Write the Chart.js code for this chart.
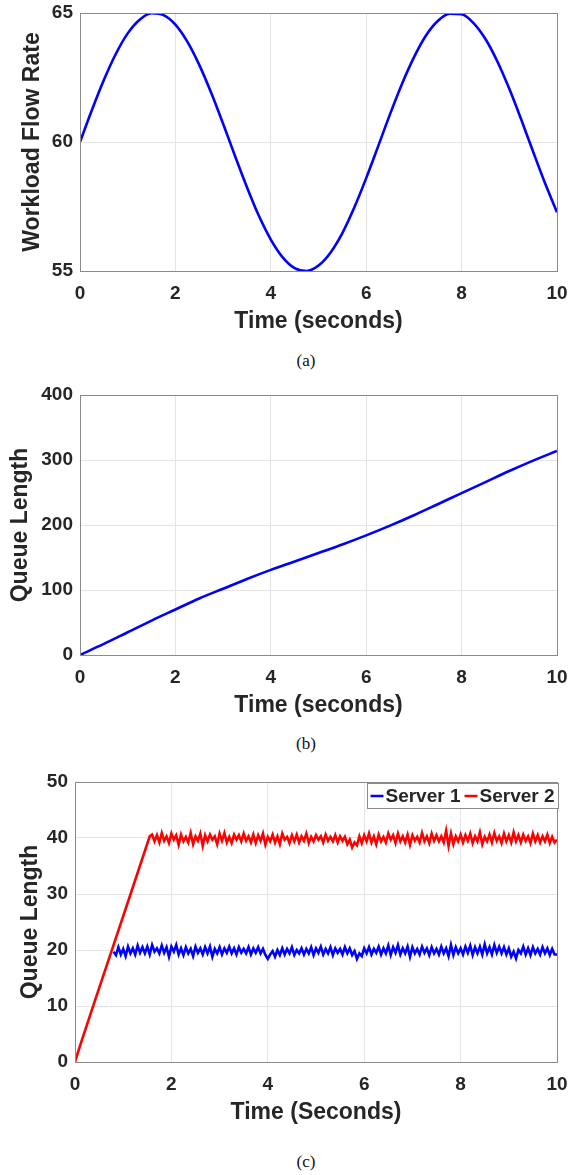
<!DOCTYPE html>
<html>
<head>
<meta charset="utf-8">
<title>Workload and queue length</title>
<script src="https://cdn.jsdelivr.net/npm/chart.js@4.4.1/dist/chart.umd.min.js"></script>
<style>
  html, body { margin: 0; padding: 0; background: #fff; }
  body { position: relative; width: 578px; height: 1175px; overflow: hidden; }
  canvas { position: absolute; left: 0; }
  .cap { position: absolute; left: 256px; width: 100px; text-align: center;
         font: 17px "Liberation Serif", serif; line-height: 20px; color: #111; }
</style>
</head>
<body>
<canvas id="chartA" width="578" height="341" style="top:0px"></canvas>
<div class="cap" style="top:351px">(a)</div>
<canvas id="chartB" width="578" height="343" style="top:382px"></canvas>
<div class="cap" style="top:734px">(b)</div>
<canvas id="chartC" width="578" height="363" style="top:769px"></canvas>
<div class="cap" style="top:1152px">(c)</div>

<script>
// (a) workload flow rate, read every 0.25 s
const timeA = [0, 0.25, 0.5, 0.75, 1, 1.25, 1.5, 1.75, 2, 2.25, 2.5, 2.75, 3, 3.25, 3.5, 3.75,
    4, 4.25, 4.5, 4.75, 5, 5.25, 5.5, 5.75, 6, 6.25, 6.5, 6.75, 7, 7.25, 7.5, 7.75,
    8, 8.25, 8.5, 8.75, 9, 9.25, 9.5, 9.75, 10];
const flowRate = [60, 61.24, 62.40, 63.41, 64.21, 64.74, 64.99, 64.92, 64.55, 63.89, 62.99, 61.91,
    60.71, 59.46, 58.25, 57.14, 56.22, 55.53, 55.11, 55.00, 55.21, 55.71, 56.47, 57.46,
    58.60, 59.83, 61.08, 62.25, 63.28, 64.12, 64.69, 64.97, 64.95, 64.61, 63.99, 63.12,
    62.06, 60.87, 59.62, 58.40, 57.28];

// (b) queue length, read every 0.5 s
const timeB = [0, 0.5, 1, 1.5, 2, 2.5, 3, 3.5, 4, 4.5, 5, 5.5, 6, 6.5, 7, 7.5, 8, 8.5, 9, 9.5, 10];
const queueB = [0, 17, 35, 53, 70, 87, 102, 117, 131, 144, 157, 170, 184, 199, 215, 232, 249, 266, 283, 299, 314];

// (c) two servers: server 2 ramps up first, then both hover around their level
const rampTime2 = [0, 0.1, 0.4, 0.77, 1.2, 1.55];
const rampQueue2 = [0, 2.8, 10.6, 20.1, 31.2, 40.3];
const sampleStep = 0.05;
const server2Start = 1.6;
const server2Queue = [
    40.6, 39.4, 40.5, 39.2, 40.9, 39.5, 40.3, 39.1, 40.8, 39.7, 40.5, 38.8, 40.6, 39.4, 40.2, 39.2, 40.9, 38.9, 40.3, 39.5,
    40.8, 38.6, 40.5, 39.4, 40.6, 39.7, 40.3, 38.9, 40.8, 39.5, 40.9, 39.2, 40.2, 39.1, 40.6, 39.7, 40.5, 39.4, 40.8, 39.5,
    40.3, 39.2, 40.6, 39.1, 40.5, 39.5, 40.8, 38.8, 40.2, 39.4, 40.6, 39.2, 40.3, 38.9, 40.8, 39.7, 40.2, 39.1, 40.5, 39.4,
    40.6, 39.2, 40.3, 39.5, 40.8, 39.1, 40.2, 39.4, 40.5, 39.7, 40.3, 39.2, 40.6, 39.5, 40.2, 39.4, 40.5, 39.2, 40.3, 39.5,
    40.2, 38.9, 39.7, 38.3, 39.2, 38.7, 40.3, 39.1, 40.5, 39.4, 40.8, 39.2, 40.3, 38.9, 40.6, 39.4, 40.2, 39.2, 40.8, 39.7,
    40.5, 39.1, 40.8, 39.4, 40.3, 39.2, 40.6, 38.8, 40.5, 39.5, 40.2, 39.2, 40.9, 39.4, 40.3, 39.1, 40.8, 39.5, 40.5, 39.4,
    40.3, 39.2, 41.3, 38.6, 40.8, 38.9, 40.3, 39.4, 40.6, 39.2, 40.5, 39.5, 40.8, 39.1, 40.3, 39.4, 41.0, 38.9, 40.2, 39.4,
    40.6, 39.2, 40.9, 39.5, 40.3, 39.1, 40.8, 39.4, 40.5, 39.2, 41.0, 39.4, 40.5, 39.2, 40.6, 39.5, 40.3, 39.1, 40.8, 39.4,
    40.5, 39.2, 40.3, 39.4, 40.6, 39.1, 40.2, 39.2, 39.7];
const server1Start = 0.8;
const server1Queue = [
    19.7, 19.1, 20.5, 19.2, 20.2, 18.9, 20.6, 19.4, 20.3, 19.2, 20.8, 19.5, 20.5, 19.4, 20.6, 19.2, 20.9, 19.7, 20.3, 19.4,
    20.8, 19.5, 20.5, 18.8, 20.6, 19.7, 20.9, 19.2, 20.3, 19.1, 20.5, 19.4, 20.2, 18.9, 20.6, 19.5, 20.3, 19.2, 20.5, 19.4,
    20.6, 18.8, 20.2, 19.4, 20.5, 19.2, 20.3, 19.5, 20.6, 19.4, 20.3, 19.2, 20.5, 19.5, 20.2, 19.4, 20.5, 19.2, 20.3, 19.5,
    20.5, 19.4, 20.2, 19.1, 18.4, 19.2, 19.8, 18.8, 20.0, 19.1, 20.3, 19.2, 20.2, 19.4, 20.5, 19.1, 20.0, 19.4, 20.3, 19.2,
    20.2, 19.4, 20.5, 19.1, 20.3, 19.5, 20.6, 19.2, 20.2, 19.4, 20.5, 19.1, 20.3, 19.5, 20.2, 19.2, 20.5, 19.4, 20.3, 19.1,
    19.8, 18.4, 19.4, 18.9, 20.3, 19.4, 20.5, 19.2, 20.2, 19.5, 20.6, 19.2, 20.3, 19.4, 20.8, 19.1, 20.5, 19.5, 20.9, 19.2,
    20.3, 19.4, 20.6, 18.8, 20.5, 19.4, 20.2, 19.2, 20.6, 19.5, 20.3, 19.1, 20.5, 19.4, 20.2, 19.2, 20.6, 19.4, 20.3, 18.9,
    20.9, 19.1, 20.5, 19.4, 20.3, 19.2, 20.6, 19.5, 20.8, 19.1, 20.5, 19.4, 20.6, 19.2, 21.0, 19.4, 20.5, 19.2, 20.9, 19.5,
    20.6, 19.4, 20.5, 19.2, 20.3, 18.8, 19.7, 18.5, 20.0, 19.4, 20.6, 19.2, 20.3, 19.1, 20.5, 19.4, 20.2, 19.2, 20.5, 19.4,
    20.3, 19.1, 20.2, 19.2, 19.2];

const seriesLabels = ['Server 1', 'Server 2'];
const xTicksEvery = 2;

const textColor = '#262626';
const gridColor = '#e4e4e4';
const boxColor = '#8a8a8a';
const tickFont = { family: '"Liberation Sans", Arial, sans-serif', size: 19, weight: 'bold' };
const titleFont = { family: '"Liberation Sans", Arial, sans-serif', size: 23, weight: 'bold' };

function toPoints(xs, ys) {
    return ys.map((y, i) => ({ x: xs[i], y: y }));
}
function sampled(start, ys) {
    return ys.map((y, i) => ({ x: +(start + i * sampleStep).toFixed(2), y: y }));
}

// full box round the plot + optional legend in the top-right corner (MATLAB look)
const framePlugin = {
    id: 'frame',
    afterDraw(chart, args, opts) {
        const ctx = chart.ctx;
        const a = chart.chartArea;
        ctx.save();
        ctx.strokeStyle = boxColor;
        ctx.lineWidth = 1;
        ctx.strokeRect(Math.round(a.left) + 0.5, Math.round(a.top) + 0.5,
            Math.round(a.right - a.left), Math.round(a.bottom - a.top));

        if (opts.legend) {
            ctx.font = 'bold 19px "Liberation Sans", Arial, sans-serif';
            ctx.textBaseline = 'middle';
            const lineLen = 13, gap = 2, pad = 3;
            const items = chart.data.datasets.map(d => ({
                text: d.label, color: d.borderColor, w: ctx.measureText(d.label).width
            }));
            let total = pad;
            items.forEach(it => { total += lineLen + gap + it.w + pad + 1; });
            const right = Math.round(a.right) + 1.5;
            const top = Math.round(a.top) + 1.5;
            const h = 25;
            const left = right - total;
            ctx.fillStyle = '#fff';
            ctx.fillRect(left, top, total, h);
            ctx.strokeStyle = boxColor;
            ctx.strokeRect(left, top, total, h);
            let x = left + pad;
            const cy = top + h / 2;
            items.forEach(it => {
                ctx.strokeStyle = it.color;
                ctx.lineWidth = 2.5;
                ctx.beginPath();
                ctx.moveTo(x, cy);
                ctx.lineTo(x + lineLen, cy);
                ctx.stroke();
                x += lineLen + gap;
                ctx.fillStyle = textColor;
                ctx.fillText(it.text, x, cy + 1);
                x += it.w + pad + 1;
            });
        }
        ctx.restore();
    }
};

function makeOptions(cfg) {
    return {
        responsive: false,
        animation: false,
        layout: { padding: { top: 13, right: 21, left: 0, bottom: 0 } },
        plugins: {
            legend: { display: false },
            tooltip: { enabled: false },
            frame: { legend: !!cfg.legend }
        },
        scales: {
            x: {
                type: 'linear', min: 0, max: 10,
                ticks: { stepSize: xTicksEvery, padding: 11, font: tickFont, color: textColor, maxRotation: 0 },
                grid: { color: gridColor, drawTicks: false },
                border: { color: boxColor },
                title: { display: true, text: cfg.xTitle, font: titleFont, color: textColor, padding: { top: 0, bottom: 6 } },
                afterFit: s => { s.height = 70; s.paddingLeft = 0; s.paddingRight = 0; }
            },
            y: {
                min: cfg.yMin, max: cfg.yMax,
                ticks: { stepSize: cfg.yStep, padding: 7, font: tickFont, color: textColor },
                grid: { color: gridColor, drawTicks: false },
                border: { color: boxColor },
                title: { display: true, text: cfg.yTitle, font: titleFont, color: textColor, padding: { top: cfg.yTitlePad, bottom: 0 } },
                afterFit: s => { s.width = cfg.left; s.paddingTop = 0; s.paddingBottom = 0; }
            }
        }
    };
}

const lineStyle = { borderWidth: 2.6, pointRadius: 0, fill: false };

new Chart(document.getElementById('chartA'), {
    type: 'line',
    data: {
        datasets: [Object.assign({
            label: 'Workload Flow Rate',
            data: toPoints(timeA, flowRate),
            borderColor: '#0000ff',
            cubicInterpolationMode: 'monotone'
        }, lineStyle)]
    },
    options: makeOptions({ xTitle: 'Time (seconds)', yTitle: 'Workload Flow Rate',
        yMin: 55, yMax: 65, yStep: 5, left: 80, yTitlePad: 19 }),
    plugins: [framePlugin]
});

new Chart(document.getElementById('chartB'), {
    type: 'line',
    data: {
        datasets: [Object.assign({
            label: 'Queue Length',
            data: toPoints(timeB, queueB),
            borderColor: '#0000ff',
            cubicInterpolationMode: 'monotone'
        }, lineStyle)]
    },
    options: makeOptions({ xTitle: 'Time (seconds)', yTitle: 'Queue Length',
        yMin: 0, yMax: 400, yStep: 100, left: 80, yTitlePad: 7 }),
    plugins: [framePlugin]
});

new Chart(document.getElementById('chartC'), {
    type: 'line',
    data: {
        datasets: [
            Object.assign({
                label: seriesLabels[0],
                data: sampled(server1Start, server1Queue),
                borderColor: '#0000ff'
            }, lineStyle),
            Object.assign({
                label: seriesLabels[1],
                data: toPoints(rampTime2, rampQueue2).concat(sampled(server2Start, server2Queue)),
                borderColor: '#ff0000'
            }, lineStyle)
        ]
    },
    options: makeOptions({ xTitle: 'Time (Seconds)', yTitle: 'Queue Length',
        yMin: 0, yMax: 50, yStep: 10, left: 75, yTitlePad: 17, legend: true }),
    plugins: [framePlugin]
});
</script>
</body>
</html>
